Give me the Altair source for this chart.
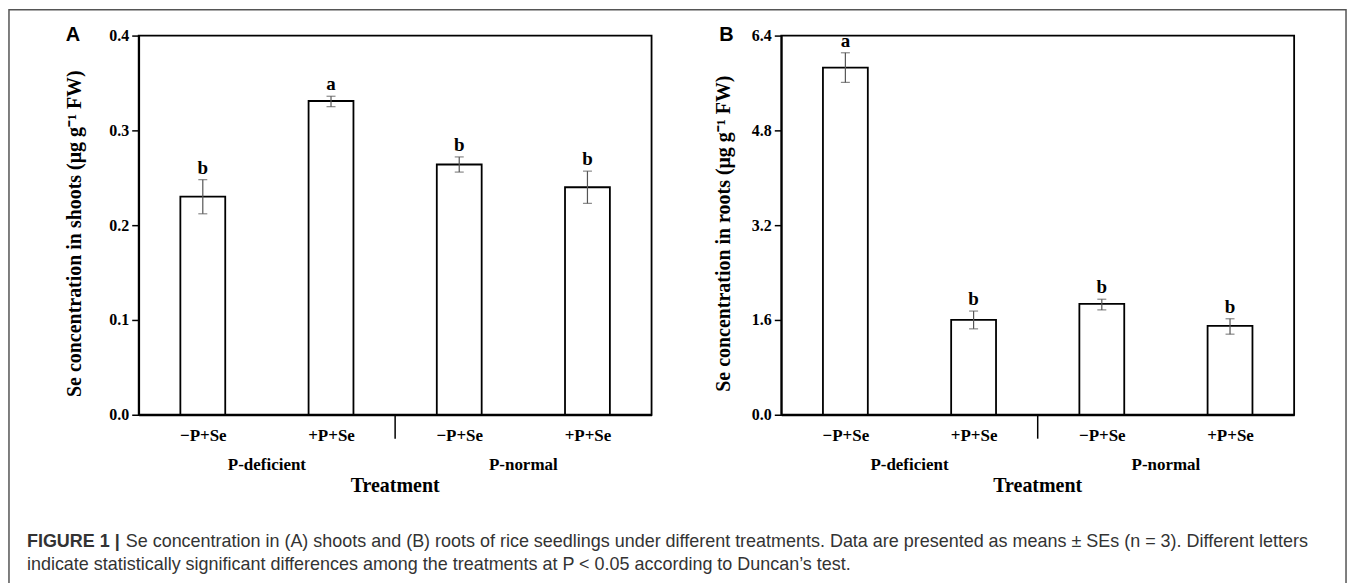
import json
import altair as alt
import pandas as pd

# ---------------- data ----------------
treatments = ["−P+Se", "+P+Se", "−P+Se", "+P+Se"]
positions = [1, 2, 3, 4]
groups = ["P-deficient", "P-normal"]
group_pos = [1.5, 3.5]
separator_pos = [2.5]

shoot_mean = [0.230, 0.331, 0.264, 0.240]
shoot_lo = [0.212, 0.325, 0.256, 0.223]
shoot_hi = [0.248, 0.336, 0.272, 0.257]
shoot_letters = ["b", "a", "b", "b"]

root_mean = [5.86, 1.60, 1.87, 1.50]
root_lo = [5.61, 1.45, 1.77, 1.36]
root_hi = [6.11, 1.75, 1.95, 1.62]
root_letters = ["a", "b", "b", "b"]

shoot_ticks = [0.0, 0.1, 0.2, 0.3, 0.4]
root_ticks = [0.0, 1.6, 3.2, 4.8, 6.4]

caption_line1_bold = "FIGURE 1 |"
caption_line1 = ("Se concentration in (A) shoots and (B) roots of rice seedlings under different "
                 "treatments. Data are presented as means ± SEs (n = 3). Different letters")
caption_line2 = ("indicate statistically significant differences among the treatments at "
                 "P < 0.05 according to Duncan’s test.")

SERIF = "Liberation Serif"
SANS = "Liberation Sans"
W, H = 514, 380
HALF_BAR = 0.175

label_expr = json.dumps(treatments) + "[datum.value - 1]"


def panel(mean, lo, hi, letters, ticks, ytitle, title_x, panel_letter, letter_x, frame=False):
    df = pd.DataFrame({"pos": positions, "treat": treatments, "mean": mean,
                       "lo": lo, "hi": hi, "letter": letters})
    xscale = alt.Scale(domain=[0.5, 4.5], nice=False, zero=False)
    yscale = alt.Scale(domain=[ticks[0], ticks[-1]], nice=False)
    xaxis = alt.Axis(values=positions, labelExpr=label_expr, ticks=False, tickSize=0,
                     labelPadding=13, grid=False, title=None, labelFont=SERIF,
                     labelFontWeight="bold", labelFontSize=17, labelColor="black",
                     labelFlush=False, labelOverlap=False, domainColor="black",
                     domainWidth=1.8)
    yaxis = alt.Axis(values=ticks, format=".1f", tickSize=7, tickColor="black",
                     tickWidth=1.5, labelFont=SERIF, labelFontWeight="bold",
                     labelFontSize=16, labelColor="black", labelPadding=3,
                     labelFlush=False, grid=False, title=ytitle, titleFont=SERIF,
                     titleFontSize=20, titleFontWeight="bold", titleColor="black",
                     titleX=title_x, titleY=198, titleBaseline="middle",
                     domainColor="black", domainWidth=1.8)

    base = alt.Chart(df)
    bars = base.transform_calculate(
        x1=f"datum.pos - {HALF_BAR}", x2=f"datum.pos + {HALF_BAR}"
    ).mark_bar(fill="white", stroke="black", strokeWidth=1.8).encode(
        x=alt.X("x1:Q", scale=xscale, axis=xaxis),
        x2="x2:Q",
        y=alt.Y("mean:Q", scale=yscale, axis=yaxis),
        y2=alt.datum(0),
    )
    err = base.mark_rule(color="#555", strokeWidth=1.2).encode(
        x="pos:Q", y="lo:Q", y2="hi:Q")
    cap_lo = base.mark_tick(orient="horizontal", size=9, thickness=1.2, color="#555").encode(
        x="pos:Q", y="lo:Q")
    cap_hi = base.mark_tick(orient="horizontal", size=9, thickness=1.2, color="#555").encode(
        x="pos:Q", y="hi:Q")
    sig = base.mark_text(font=SERIF, fontWeight="bold", fontSize=19, baseline="bottom",
                         dy=-2, color="black").encode(x="pos:Q", y="hi:Q", text="letter:N")

    sep = alt.Chart(pd.DataFrame({"pos": separator_pos})).mark_rule(
        color="black", strokeWidth=1.5).encode(
        x="pos:Q", y=alt.value(H), y2=alt.value(H + 24))
    grp = alt.Chart(pd.DataFrame({"pos": group_pos, "name": groups})).mark_text(
        font=SERIF, fontWeight="bold", fontSize=17, baseline="middle", color="black").encode(
        x="pos:Q", y=alt.value(H + 50), text="name:N")
    xt = alt.Chart(pd.DataFrame({"pos": separator_pos, "t": ["Treatment"]})).mark_text(
        font=SERIF, fontWeight="bold", fontSize=20, baseline="middle", color="black").encode(
        x="pos:Q", y=alt.value(H + 71), text="t:N")
    plet = alt.Chart(pd.DataFrame({"t": [panel_letter]})).mark_text(
        font=SANS, fontWeight="bold", fontSize=20, baseline="middle", align="center",
        color="black").encode(x=alt.value(letter_x), y=alt.value(-1), text="t:N")

    layers = [bars, err, cap_lo, cap_hi, sig, sep, grp, xt, plet]
    if frame:
        fr = alt.Chart(pd.DataFrame({"a": [0]})).mark_rect(
            fill=None, stroke="#555", strokeWidth=1.5).encode(
            x=alt.value(-130), x2=alt.value(1210), y=alt.value(-26), y2=alt.value(560))
        capb = alt.Chart(pd.DataFrame({"t": [caption_line1_bold]})).mark_text(
            font=SANS, fontSize=18, fontWeight="bold", align="left",
            baseline="alphabetic", color="#333").encode(
            x=alt.value(-112), y=alt.value(513), text="t:N")
        capn = alt.Chart(pd.DataFrame({"t": [caption_line1, caption_line2],
                                       "px": [-13, -112], "py": [513, 536]})).mark_text(
            font=SANS, fontSize=18, align="left", baseline="alphabetic",
            color="#333").encode(
            x=alt.X("px:Q", scale=None), y=alt.Y("py:Q", scale=None), text="t:N")
        layers = [fr] + layers + [capb, capn]
    return alt.layer(*layers).properties(width=W, height=H)


pa = panel(shoot_mean, shoot_lo, shoot_hi, shoot_letters, shoot_ticks,
           "Se concentration in shoots (μg g⁻¹ FW)", -64, "A", -66, frame=True)
pb = panel(root_mean, root_lo, root_hi, root_letters, root_ticks,
           "Se concentration in roots (μg g⁻¹ FW)", -58, "B", -55)

chart = alt.hconcat(pa, pb, spacing=130, bounds="flush").properties(
    padding={"left": 7, "top": 7, "right": 7, "bottom": 0},
    background="white",
).configure_view(stroke="black", strokeWidth=1.8)

chart.save("out.html", embed_options={"renderer": "svg", "actions": False})
